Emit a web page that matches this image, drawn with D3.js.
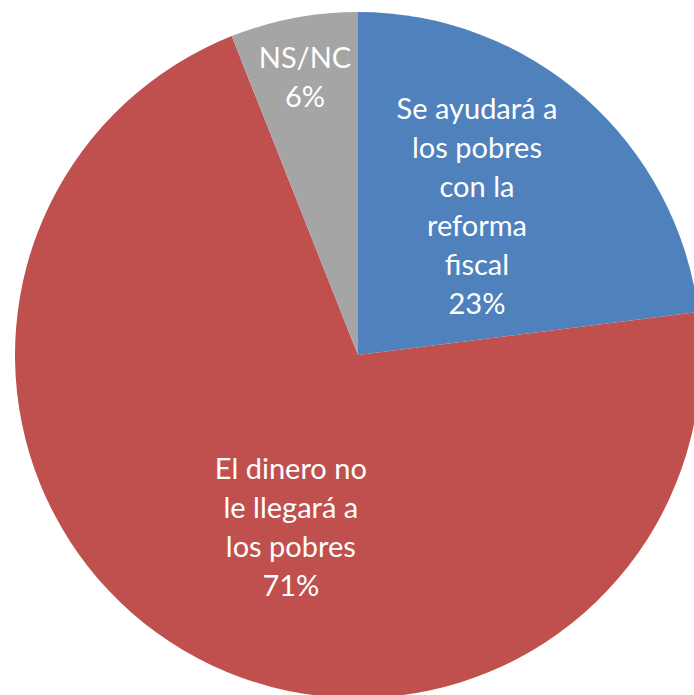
<!DOCTYPE html>
<html>
<head>
<meta charset="utf-8">
<script src="https://cdn.jsdelivr.net/npm/d3@7"></script>
<style>
  html, body { margin: 0; padding: 0; background: #fff; }
  svg { display: block; }
  .lbl { font-family: Lato, "Open Sans", sans-serif; fill: #fff; }
</style>
</head>
<body>
<div id="chart"></div>
<script>
// data
var categories = ["Se ayudará a los pobres con la reforma fiscal", "El dinero no le llegará a los pobres", "NS/NC"];
var values = [23, 71, 6];
var labelLines = [
    ["Se ayudará a", "los pobres", "con la", "reforma", "fiscal", "23%"],
    ["El dinero no", "le llegará a", "los pobres", "71%"],
    ["NS/NC", "6%"]
];
var colors = ["#4F81BD", "#C0504D", "#A5A5A5"];

var width = 694, height = 695;
var cx = 358, cy = 355, radius = 343;

var svg = d3.select("#chart")
    .append("svg")
    .attr("width", width)
    .attr("height", height);

var g = svg.append("g")
    .attr("transform", "translate(" + cx + "," + cy + ")");

var pie = d3.pie().sort(null).value(function (d) { return d; });
var arcs = pie(values);

var arc = d3.arc().innerRadius(0).outerRadius(radius);

g.selectAll(".slice")
    .data(arcs)
    .enter().append("path")
    .attr("class", "slice")
    .attr("d", arc)
    .attr("fill", function (d, i) { return colors[i]; });

// label placement: centroid at a radius, with small nudges like the original
var labelR = [192, 185, 283];
var nudge = [[-8, -5], [27, 13], [0, 0]];
var lineH = 39;

arcs.forEach(function (d, i) {
    var a = (d.startAngle + d.endAngle) / 2;
    var x = Math.sin(a) * labelR[i] + nudge[i][0];
    var y = -Math.cos(a) * labelR[i] + nudge[i][1];
    var lines = labelLines[i];
    var t = g.append("text")
        .attr("class", "lbl")
        .attr("text-anchor", "middle")
        .attr("font-size", 29)
        .attr("x", x)
        .attr("y", y - (lines.length - 1) * lineH / 2);
    lines.forEach(function (s, k) {
        t.append("tspan")
            .attr("x", x)
            .attr("dy", k === 0 ? "0.35em" : lineH)
            .text(s);
    });
});
</script>
</body>
</html>
